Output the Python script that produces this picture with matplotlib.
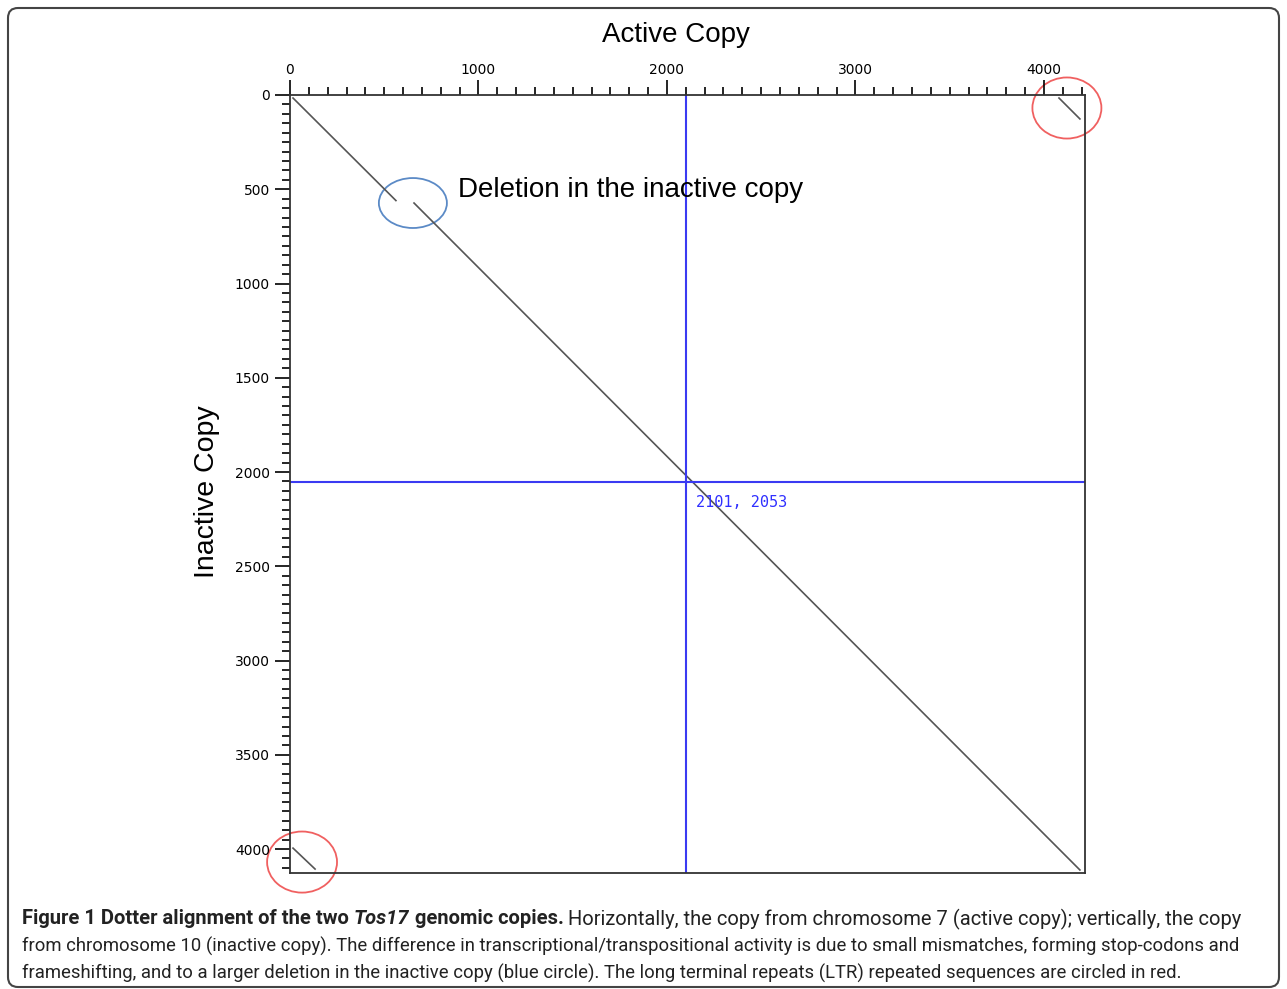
import matplotlib
matplotlib.use('Agg')
import matplotlib.pyplot as plt
from matplotlib.patches import Ellipse, FancyBboxPatch
from matplotlib.ticker import MultipleLocator

# dotter diagonal (active copy position, inactive copy position)
diag_x = [[16, 562], [658, 4191]]
diag_y = [[16, 560], [573, 4111]]
# LTR hits in the corners
ltr_x = [[4080, 4191], [16, 133]]
ltr_y = [[16, 127], [3995, 4106]]
# crosshair cursor
cursor_x, cursor_y = 2101, 2053
# circles: centre x, centre y, width, height
blue_circ = (652, 573, 361, 265)
red_circs = [(4122, 69, 366, 324), (64, 4069, 371, 324)]

xlim_max = 4218
ylim_max = 4127

fig = plt.figure(figsize=(12.87, 9.89), dpi=100)
ax = fig.add_axes([290/1287, 1-873/989, 795/1287, 778/989])

for xs, ys in zip(diag_x, diag_y):
    ax.plot(xs, ys, color='#555555', lw=1.2)
for xs, ys in zip(ltr_x, ltr_y):
    ax.plot(xs, ys, color='#555555', lw=1.2)

ax.axvline(cursor_x, color='#3a3af2', lw=1.5)
ax.axhline(cursor_y, color='#3a3af2', lw=1.5)
ax.text(cursor_x + 55, cursor_y + 70, f'{cursor_x}, {cursor_y}', color='#3030ff',
        fontsize=11, family='DejaVu Sans Mono', va='top', ha='left')

cx, cy, w, h = blue_circ
ax.add_patch(Ellipse((cx, cy), w, h, fill=False, edgecolor='#5b8ac6', lw=1.3, clip_on=False))
for cx, cy, w, h in red_circs:
    ax.add_patch(Ellipse((cx, cy), w, h, fill=False, edgecolor='#f06060', lw=1.3, clip_on=False))

ax.text(890, 505, 'Deletion in the inactive copy', fontsize=20, family='Liberation Sans',
        va='center', ha='left')

ax.set_xlim(0, xlim_max)
ax.set_ylim(ylim_max, 0)
ax.xaxis.tick_top()
ax.xaxis.set_major_locator(MultipleLocator(1000))
ax.xaxis.set_minor_locator(MultipleLocator(100))
ax.yaxis.set_major_locator(MultipleLocator(500))
ax.yaxis.set_minor_locator(MultipleLocator(50))
ax.tick_params(which='major', length=11, width=1.2, labelsize=10)
ax.tick_params(which='minor', length=6, width=1.2)
ax.tick_params(axis='x', pad=2)
for lab in ax.get_xticklabels() + ax.get_yticklabels():
    lab.set_family('DejaVu Sans')
for s in ax.spines.values():
    s.set_linewidth(1.3)
    s.set_color('#333333')

fig.text(676/1287, 1-35/989, 'Active Copy', fontsize=20, family='Liberation Sans',
         ha='center', va='center')
fig.text(207/1287, 1-492/989, 'Inactive Copy', fontsize=20.5, family='Liberation Sans',
         ha='center', va='center', rotation=90)

# outer frame
fig.patches.append(FancyBboxPatch((8, 2), 1271, 979, boxstyle='round,pad=0,rounding_size=10',
                                  transform=None, fill=False, edgecolor='#444444', lw=1.5))

# caption
cap_font = ['Roboto', 'DejaVu Sans']
renderer = fig.canvas.get_renderer()
pieces = [('Figure 1 Dotter alignment of the two ', 'bold', 'normal'),
          ('Tos17', 'bold', 'italic'),
          (' genomic copies.', 'bold', 'normal'),
          (' Horizontally, the copy from chromosome 7 (active copy); vertically, the copy', 'normal', 'normal')]
lines = ['from chromosome 10 (inactive copy). The difference in transcriptional/transpositional activity is due to small mismatches, forming stop-codons and',
         'frameshifting, and to a larger deletion in the inactive copy (blue circle). The long terminal repeats (LTR) repeated sequences are circled in red.']


def width_at(txt, wt='normal', st='normal', size=10):
    probe = fig.text(0, 0, txt, fontsize=size, family=cap_font, weight=wt, style=st)
    w = probe.get_window_extent(renderer).width
    probe.remove()
    return w


# fit line widths to the reference
size2 = 10 * (1239 - 22) / width_at(lines[0])
w1 = sum(width_at(t, wt, st) for t, wt, st in pieces)
size1 = 10 * (1245 - 22) / w1

x0 = 22
for txt, wt, st in pieces:
    t = fig.text(x0/1287, 1-919/989, txt, fontsize=size1, family=cap_font,
                 weight=wt, style=st, va='center', ha='left', color='#222222')
    bb = t.get_window_extent(renderer)
    x0 = bb.x1
for i, ln in enumerate(lines):
    fig.text(22/1287, 1-(946+27*i)/989, ln, fontsize=size2, family=cap_font,
             va='center', ha='left', color='#222222')

fig.savefig('out.png', dpi=100)
